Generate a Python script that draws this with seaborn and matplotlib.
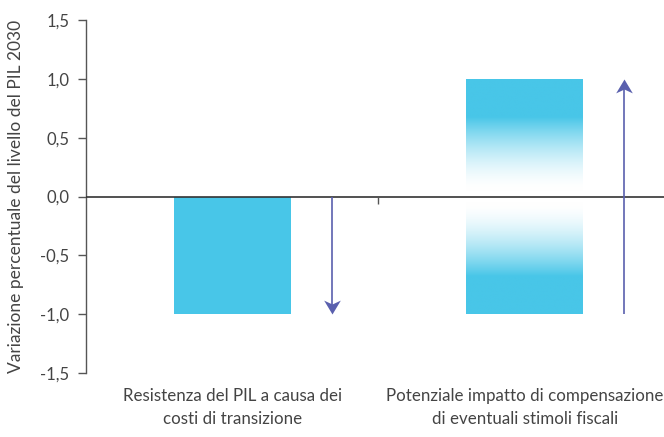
import numpy as np
import pandas as pd
import matplotlib
matplotlib.use("Agg")
import matplotlib.pyplot as plt
from matplotlib.path import Path
import seaborn as sns

# Data
categories = [
    "Resistenza del PIL a causa dei\ncosti di transizione",
    "Potenziale impatto di compensazione\ndi eventuali stimoli fiscali",
]
bar_upper = [0.0, 1.0]     # part of each bar above zero
bar_lower = [-1.0, -1.0]   # part of each bar below zero
arrow_start = [0.0, -1.0]
arrow_end = [-1.0, 1.0]
yticks = [-1.5, -1.0, -0.5, 0.0, 0.5, 1.0, 1.5]
yticklabels = ["-1,5", "-1,0", "-0,5", "0,0", "0,5", "1,0", "1,5"]
ylabel = "Variazione percentuale del livello del PIL 2030"

BAR_COLOR = "#48C6E8"
ARROW_COLOR = "#5A60AE"
TEXT_COLOR = "#444444"
AXIS_COLOR = "#555555"

sns.set_theme(style="white")
plt.rcParams["font.family"] = ["Lato", "DejaVu Sans"]

fig = plt.figure(figsize=(6.64, 4.37), dpi=100)
ax = fig.add_axes([86 / 664, 1 - 373 / 437, 585 / 664, 353 / 437])

df_up = pd.DataFrame({"cat": categories, "val": bar_upper})
df_lo = pd.DataFrame({"cat": categories, "val": bar_lower})
sns.barplot(data=df_up, x="cat", y="val", color=BAR_COLOR, saturation=1,
            width=0.4, ax=ax, errorbar=None)
sns.barplot(data=df_lo, x="cat", y="val", color=BAR_COLOR, saturation=1,
            width=0.4, ax=ax, errorbar=None)

for p in ax.patches:
    p.set_edgecolor("none")

# Gradient fill for the second category (fades to white around zero)
rgb = np.array(matplotlib.colors.to_rgb(BAR_COLOR))
for p in list(ax.patches):
    x0, w = p.get_x(), p.get_width()
    y0, h = p.get_y(), p.get_height()
    if abs(x0 + w / 2 - 1) > 0.01 or h == 0:
        continue
    ylo, yhi = min(y0, y0 + h), max(y0, y0 + h)
    ys = np.linspace(yhi, ylo, 300)
    t = np.clip((np.abs(ys) - 0.06) / (0.68 - 0.06), 0, 1)
    wgt = t ** 1.6
    col = 1 - wgt[:, None] * (1 - rgb[None, :])
    img = np.repeat(col[:, None, :], 2, axis=1)
    p.set_facecolor("none")
    im = ax.imshow(img, extent=[x0, x0 + w, ylo, yhi], aspect="auto",
                   interpolation="bilinear", zorder=p.get_zorder())
    im.set_clip_path(p)

# Arrows to the right of each bar
def head_marker(up):
    s = -1 if up else 1
    verts = [(0, 0), (0.6, s * 1.0), (0, s * 0.72), (-0.6, s * 1.0), (0, 0)]
    codes = [Path.MOVETO, Path.LINETO, Path.LINETO, Path.LINETO, Path.CLOSEPOLY]
    return Path(verts, codes)

for i, (a, b) in enumerate(zip(arrow_start, arrow_end)):
    xa = i + 0.34
    up = b > a
    ax.plot([xa, xa], [a, b - (0.05 if up else -0.05)], color=ARROW_COLOR,
            lw=1.2, solid_capstyle="butt", zorder=4)
    ax.plot([xa], [b], marker=head_marker(up), markersize=20,
            color=ARROW_COLOR, markeredgewidth=0, zorder=5)

# Zero line and category separator tick
ax.axhline(0, color="#333333", lw=1.2, zorder=3)
ax.vlines(0.5, -0.06, 0, color=AXIS_COLOR, lw=1.0, zorder=3)

ax.set_xlim(-0.5, 1.5)
ax.set_ylim(-1.5, 1.5)
ax.set_yticks(yticks)
ax.set_yticklabels(yticklabels)
ax.set_xlabel("")
ax.set_ylabel(ylabel, fontsize=12.5, color=TEXT_COLOR, labelpad=12)

for side in ["top", "right", "bottom"]:
    ax.spines[side].set_visible(False)
ax.spines["left"].set_color(AXIS_COLOR)
ax.spines["left"].set_linewidth(1.0)

ax.tick_params(axis="y", length=6, width=1.0, color=AXIS_COLOR, left=True,
               labelsize=12, labelcolor=TEXT_COLOR, pad=6)
ax.tick_params(axis="x", length=0, labelsize=12.2, labelcolor=TEXT_COLOR, pad=11)
for lbl in ax.get_xticklabels():
    lbl.set_linespacing(1.55)

fig.savefig("out.png", dpi=100)
